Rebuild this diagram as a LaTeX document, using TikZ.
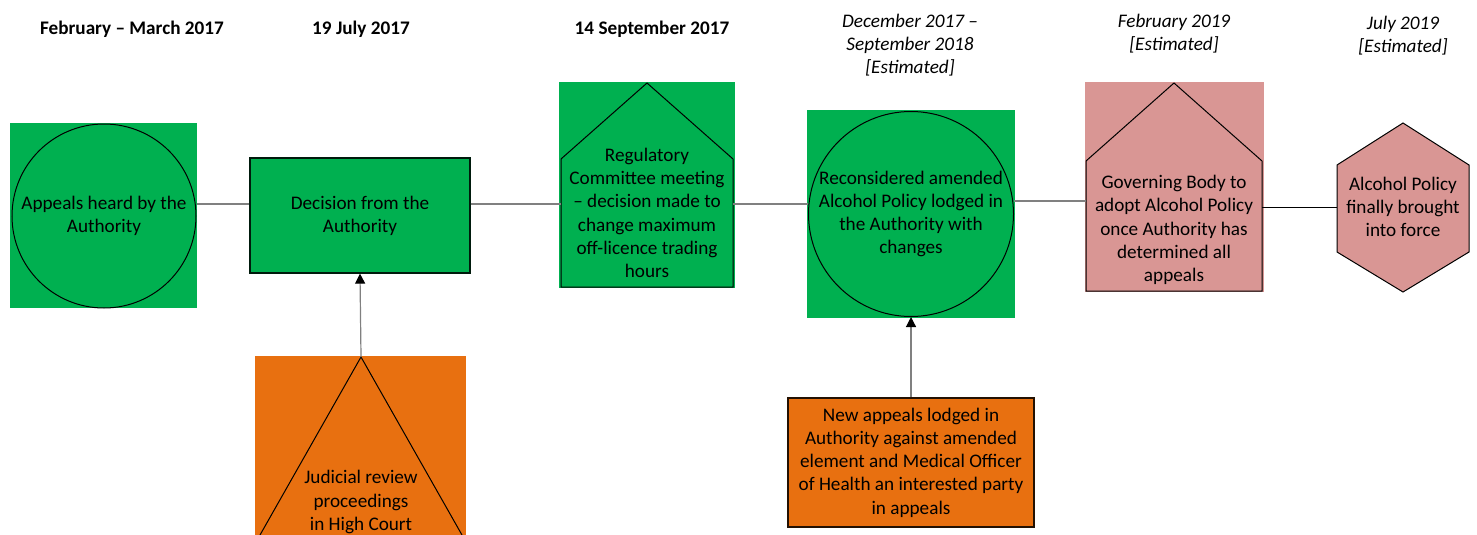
\documentclass[tikz,border=0pt]{standalone}
\usepackage{fontspec}
\setmainfont{Carlito}
\usetikzlibrary{arrows.meta,calc}
\definecolor{bggreen}{RGB}{0,176,80}
\definecolor{bgpink}{RGB}{217,150,148}
\definecolor{bgorange}{RGB}{232,112,16}
\definecolor{conngray}{RGB}{128,128,128}
\begin{document}
\begin{tikzpicture}[x=0.75pt,y=-0.75pt,
  every node/.style={font=\fontsize{14.4pt}{17.4pt}\selectfont, align=center, inner sep=0pt},
  hdr/.style={font=\fontsize{14.4pt}{17.4pt}\selectfont\bfseries},
  hdri/.style={font=\fontsize{14.4pt}{17.4pt}\selectfont\itshape},
  outl/.style={draw=black, line width=0.75pt},
  conn/.style={draw=conngray, line width=0.9pt},
  arr/.style={conn, -{Triangle[width=7.5pt,length=7.5pt,fill=black,color=black]}}
]
\useasboundingbox (0,0) rectangle (1477,535);

% headers
\node[hdr] (hd1) at (132,29) {February -- March 2017};
\node[hdr] (hd2) at (361,29) {19 July 2017};
\node[hdr] (hd3) at (652,29) {14 September 2017};
\node[hdri] (hd4) at (910,45) {December 2017 --\\September 2018\\{}[Estimated]};
\node[hdri] (hd5) at (1174,34) {February 2019\\{}[Estimated]};
\node[hdri] (hd6) at (1403,36) {July 2019\\{}[Estimated]};

% 1: appeals heard (circle on green square)
\fill[bggreen] (10,123) rectangle (197,308);
\node[outl, circle, minimum size=138pt] (c1) at (104,216) {Appeals heard by the\\Authority};

% 2: decision rectangle
\node[draw=black!85!bggreen, line width=0.95pt, fill=bggreen, rectangle, minimum width=165pt, minimum height=86.25pt] (d1) at (360,215.5) {Decision from the\\Authority};

% 3: regulatory committee (house on green square)
\fill[bggreen] (559,82) rectangle (735,288);
\draw[outl] (647,83) -- (733,159) -- (733,287) -- (561,287) -- (561,159) -- cycle;
\node[minimum width=129pt, minimum height=111pt] (h1) at (647,213) {Regulatory\\Committee meeting\\-- decision made to\\change maximum\\off-licence trading\\hours};

% 4: reconsidered (circle on green square)
\fill[bggreen] (807,110) rectangle (1015,318);
\node[outl, circle, minimum size=153.75pt] (c2) at (911,214) {Reconsidered amended\\Alcohol Policy lodged in\\the Authority with\\changes};

% 5: governing body (house on pink square)
\fill[bgpink] (1085,82) rectangle (1264,292);
\draw[outl] (1174,83) -- (1262,161) -- (1262,291) -- (1086,291) -- (1086,161) -- cycle;
\node[minimum width=132pt, minimum height=98pt] (h2) at (1174,230) {Governing Body to\\adopt Alcohol Policy\\once Authority has\\determined all\\appeals};

% 6: hexagon
\draw[outl, fill=bgpink] (1403,123) -- (1469,165) -- (1469,252) -- (1403,292) -- (1337,252) -- (1337,165) -- cycle;
\node[minimum width=99pt, minimum height=65pt] (x1) at (1403,207) {Alcohol Policy\\finally brought\\into force};

% 7: judicial review (triangle on orange square)
\fill[bgorange] (255,356) rectangle (466,535);
\coordinate (t1apex) at (361,357);
\draw[outl] (260,535) -- (t1apex) -- (462,535);
\node (t1) at (361,502) {Judicial review\\proceedings\\in High Court};

% 8: new appeals rectangle
\node[draw=black!85!bgorange, line width=0.95pt, fill=bgorange, rectangle, minimum width=184.5pt, minimum height=96.75pt] (n1) at (911,462.5) {New appeals lodged in\\Authority against amended\\element and Medical Officer\\of Health an interested party\\in appeals};

% connectors
\draw[conn] (c1.east |- 0,204) -- (d1.west |- 0,204);
\draw[conn] (d1.east |- 0,204) -- (h1.west |- 0,204);
\draw[conn] (h1.east |- 0,204) -- (c2.west |- 0,204);
\draw[conn] (c2.east |- 0,201) -- (h2.west |- 0,201);
\draw[draw=black, line width=0.75pt] (h2.east |- 0,207) -- (1337,207);
\draw[arr] (t1apex) -- (d1.south);
\draw[arr] (n1.north) -- (c2.south);
\end{tikzpicture}
\end{document}
